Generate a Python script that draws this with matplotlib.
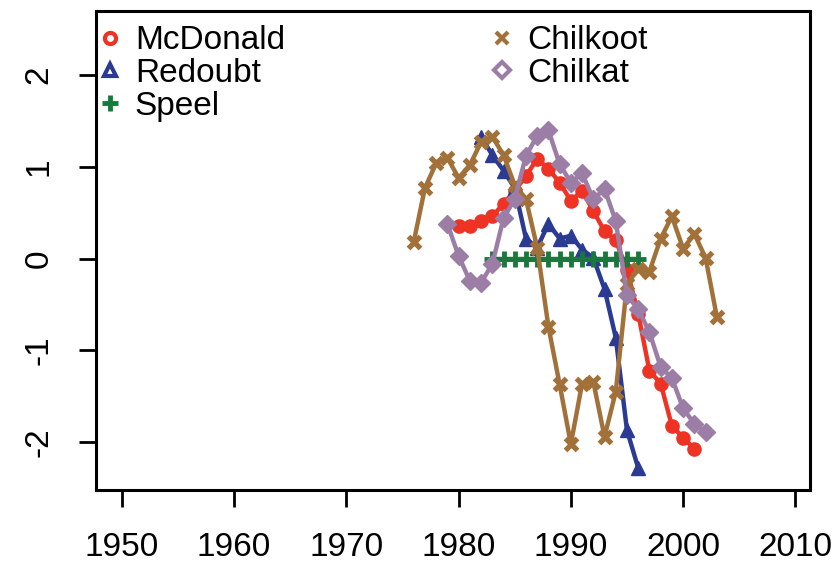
import numpy as np
import matplotlib
matplotlib.use('Agg')
import matplotlib.pyplot as plt
from matplotlib.lines import Line2D

plt.rcParams['font.family'] = ['Liberation Sans', 'DejaVu Sans']

# series (standardized anomalies)
mcd_years = np.arange(1980, 2002)
mcd_vals = [0.36, 0.36, 0.41, 0.46, 0.60, 0.74, 0.90, 1.09, 0.98, 0.83, 0.63,
            0.74, 0.52, 0.30, 0.20, -0.12, -0.60, -1.22, -1.36, -1.82, -1.95, -2.07]

red_years = np.arange(1982, 1997)
red_vals = [1.33, 1.13, 0.96, 0.77, 0.22, 0.12, 0.38, 0.22, 0.25, 0.10, 0.01,
            -0.33, -0.86, -1.87, -2.28]

spe_years = np.arange(1983, 1997)
spe_vals = [0.0] * 14

chk_years = np.arange(1976, 2004)
chk_vals = [0.18, 0.77, 1.04, 1.10, 0.88, 1.02, 1.27, 1.33, 1.13, 0.80, 0.65, 0.12,
            -0.74, -1.37, -2.02, -1.36, -1.34, -1.94, -1.45, -0.28, -0.11, -0.14,
            0.22, 0.46, 0.11, 0.27, 0.01, -0.63]

cht_years = np.arange(1979, 2003)
cht_vals = [0.38, 0.03, -0.24, -0.26, -0.06, 0.44, 0.65, 1.12, 1.34, 1.40, 1.03, 0.83,
            0.93, 0.65, 0.76, 0.41, -0.40, -0.55, -0.80, -1.18, -1.30, -1.63, -1.80, -1.89]

names = ['McDonald', 'Redoubt', 'Speel', 'Chilkoot', 'Chilkat']
colors = ['#EE3325', '#2B3A92', '#177A3C', '#A2713A', '#9C7DA5']

xticks = [1950, 1960, 1970, 1980, 1990, 2000, 2010]
yticks = [-2, -1, 0, 1, 2]

fig = plt.figure(figsize=(8.37, 5.67), dpi=100)
ax = fig.add_axes([0.1147, 0.1358, 0.853, 0.845])

lw = 3.2
ax.plot(mcd_years, mcd_vals, '-o', color=colors[0], lw=lw, ms=9.5)
ax.plot(red_years, red_vals, '-^', color=colors[1], lw=lw, ms=10)
ax.plot(spe_years, spe_vals, '-+', color=colors[2], lw=lw, ms=12, mew=3.5)
ax.plot(chk_years, chk_vals, '-x', color=colors[3], lw=lw, ms=9, mew=3.8)
ax.plot(cht_years, cht_vals, '-D', color=colors[4], lw=lw, ms=9)

ax.set_xlim(1947.7, 2011.3)
ax.set_ylim(-2.52, 2.70)
ax.set_xticks(xticks)
ax.set_yticks(yticks)
ax.set_yticklabels([str(v) for v in yticks], rotation=90, va='center')
ax.tick_params(labelsize=24, length=12, width=2, pad=18)
for s in ax.spines.values():
    s.set_linewidth(2.2)

def handle(m, c, ms, mew):
    return Line2D([], [], marker=m, color=c, mfc='none', ls='none', ms=ms, mew=mew)

h1 = [handle('o', colors[0], 8, 3), handle('^', colors[1], 9, 3), handle('+', colors[2], 12, 3.5)]
h2 = [handle('x', colors[3], 8, 3), handle('D', colors[4], 8, 3)]

opts = dict(loc='upper left', frameon=False, fontsize=24, handlelength=0.8,
            handletextpad=0.35, labelspacing=0.05, borderaxespad=0.0, borderpad=0.1)
leg1 = ax.legend(h1, names[:3], bbox_to_anchor=(-0.004, 0.977), **opts)
ax.add_artist(leg1)
ax.legend(h2, names[3:], bbox_to_anchor=(0.546, 0.977), **opts)

fig.savefig('out.png', dpi=100)
